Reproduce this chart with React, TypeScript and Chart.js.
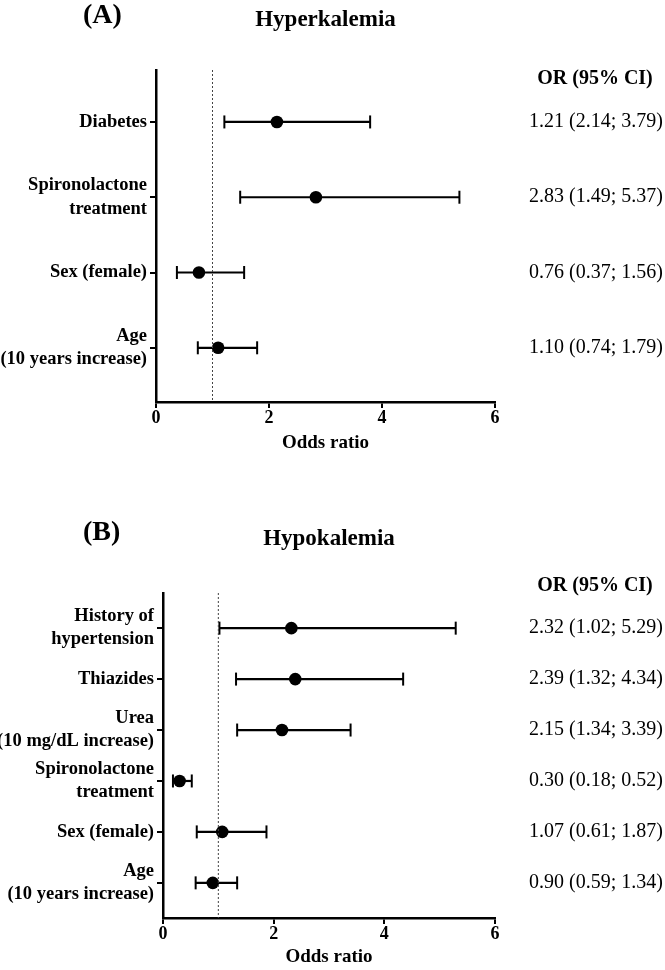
import React, { useEffect, useRef } from 'react';
import { Chart, registerables } from 'chart.js';

Chart.register(...registerables);

const FONT = '"Liberation Serif", "Times New Roman", serif';

// ---- Panel A: Hyperkalemia ----
const hyperLabels: (string | string[])[] = [
  'Diabetes',
  ['Spironolactone', 'treatment'],
  'Sex (female)',
  ['Age', '(10 years increase)'],
];
const hyperOR = [2.14, 2.83, 0.76, 1.1];
const hyperLow = [1.21, 1.49, 0.37, 0.74];
const hyperHigh = [3.79, 5.37, 1.56, 1.79];
const hyperText = [
  '1.21 (2.14; 3.79)',
  '2.83 (1.49; 5.37)',
  '0.76 (0.37; 1.56)',
  '1.10 (0.74; 1.79)',
];

// ---- Panel B: Hypokalemia ----
const hypoLabels: (string | string[])[] = [
  ['History of', 'hypertension'],
  'Thiazides',
  ['Urea', '(10 mg/dL increase)'],
  ['Spironolactone', 'treatment'],
  'Sex (female)',
  ['Age', '(10 years increase)'],
];
const hypoOR = [2.32, 2.39, 2.15, 0.3, 1.07, 0.9];
const hypoLow = [1.02, 1.32, 1.34, 0.18, 0.61, 0.59];
const hypoHigh = [5.29, 4.34, 3.39, 0.52, 1.87, 1.34];
const hypoText = [
  '2.32 (1.02; 5.29)',
  '2.39 (1.32; 4.34)',
  '2.15 (1.34; 3.39)',
  '0.30 (0.18; 0.52)',
  '1.07 (0.61; 1.87)',
  '0.90 (0.59; 1.34)',
];

const xTicks = [0, 2, 4, 6];
const refLine = 1;
const headerText = 'OR (95% CI)';
const xTitle = 'Odds ratio';

const panelTextPlugin = {
  id: 'panelText',
  afterDraw(chart: any, _args: any, opts: any) {
    const ctx = chart.ctx;
    ctx.save();
    ctx.fillStyle = '#000';
    ctx.textBaseline = 'middle';
    ctx.textAlign = 'left';
    ctx.font = `bold 28px ${FONT}`;
    ctx.fillText(opts.letter, opts.letterX, opts.letterY);
    ctx.textAlign = 'center';
    ctx.font = `bold 20px ${FONT}`;
    ctx.fillText(opts.header, opts.headerX, opts.headerY);
    ctx.restore();
  },
};

type PanelProps = {
  title: string;
  letter: string;
  labels: (string | string[])[];
  or: number[];
  low: number[];
  high: number[];
  text: string[];
  yMin: number;
  yMax: number;
  leftWidth: number;
  titlePadTop: number;
  titlePadBottom: number;
  xAxisHeight: number;
  padBottom: number;
  letterY: number;
  headerY: number;
};

function Panel(p: PanelProps) {
  const ref = useRef<HTMLCanvasElement>(null);
  useEffect(() => {
    if (!ref.current) return;
    const rows = p.labels.map((_, i) => i + 1);
    const datasets: any[] = [
      {
        data: [
          { x: refLine, y: p.yMin },
          { x: refLine, y: p.yMax },
        ],
        showLine: true,
        borderColor: '#444',
        borderWidth: 1,
        borderDash: [2, 2],
        pointRadius: 0,
      },
      ...rows.map((r, i) => ({
        data: [
          { x: p.low[i], y: r },
          { x: p.high[i], y: r },
        ],
        showLine: true,
        borderColor: '#000',
        borderWidth: 2.2,
        pointStyle: 'line',
        pointRotation: 90,
        pointRadius: 6.5,
        pointBorderColor: '#000',
        pointBorderWidth: 2,
      })),
      {
        data: rows.map((r, i) => ({ x: p.or[i], y: r })),
        showLine: false,
        pointRadius: 6.3,
        pointBackgroundColor: '#000',
        pointBorderColor: '#000',
        pointBorderWidth: 0,
      },
    ];
    const chart = new Chart(ref.current, {
      type: 'scatter',
      data: { datasets },
      plugins: [panelTextPlugin],
      options: {
        animation: false,
        responsive: false,
        devicePixelRatio: 1,
        events: [],
        layout: { padding: { left: 0, right: 2, top: 0, bottom: p.padBottom } },
        plugins: {
          legend: { display: false },
          tooltip: { enabled: false },
          title: {
            display: true,
            text: p.title,
            fullSize: false,
            color: '#000',
            font: { family: FONT, size: 23, weight: 'bold', lineHeight: 1.2 },
            padding: { top: p.titlePadTop, bottom: p.titlePadBottom },
          },
          panelText: {
            letter: p.letter,
            letterX: 83,
            letterY: p.letterY,
            header: headerText,
            headerX: 595,
            headerY: p.headerY,
          },
        } as any,
        scales: {
          x: {
            type: 'linear',
            position: 'bottom',
            min: xTicks[0],
            max: xTicks[xTicks.length - 1],
            afterBuildTicks: (s: any) => {
              s.ticks = xTicks.map((v) => ({ value: v }));
            },
            afterFit: (s: any) => {
              s.height = p.xAxisHeight;
            },
            border: { display: true, color: '#000', width: 2.5 },
            grid: { display: true, drawOnChartArea: false, drawTicks: true, tickLength: 6, color: '#000', lineWidth: 2 },
            ticks: {
              color: '#000',
              padding: 0,
              font: { family: FONT, size: 18, weight: 'bold', lineHeight: 1.2 },
            },
            title: {
              display: true,
              text: xTitle,
              color: '#000',
              font: { family: FONT, size: 19, weight: 'bold', lineHeight: 1.2 },
              padding: { top: 0, bottom: 0 },
            },
          },
          y: {
            type: 'linear',
            position: 'left',
            reverse: true,
            min: p.yMin,
            max: p.yMax,
            afterBuildTicks: (s: any) => {
              s.ticks = rows.map((v) => ({ value: v }));
            },
            afterFit: (s: any) => {
              s.width = p.leftWidth;
            },
            border: { display: true, color: '#000', width: 2.5 },
            grid: { display: true, drawOnChartArea: false, drawTicks: true, tickLength: 6, color: '#000', lineWidth: 2 },
            ticks: {
              autoSkip: false,
              color: '#000',
              padding: 3,
              font: { family: FONT, size: 18.5, weight: 'bold', lineHeight: 1.25 },
              callback: (v: any) => p.labels[Math.round(v) - 1] as any,
            },
          },
          y2: {
            type: 'linear',
            position: 'right',
            reverse: true,
            min: p.yMin,
            max: p.yMax,
            afterBuildTicks: (s: any) => {
              s.ticks = rows.map((v) => ({ value: v }));
            },
            afterFit: (s: any) => {
              s.width = 168;
            },
            border: { display: false },
            grid: { display: false },
            ticks: {
              autoSkip: false,
              color: '#000',
              padding: 0,
              crossAlign: 'far',
              font: { family: FONT, size: 20, weight: 'normal', lineHeight: 1.2 },
              callback: (v: any) => p.text[Math.round(v) - 1],
            },
          },
        },
      } as any,
    });
    return () => chart.destroy();
  }, []);
  return <canvas ref={ref} width={665} height={485} style={{ display: 'block' }} />;
}

export default function App() {
  return (
    <div style={{ position: 'absolute', left: 0, top: 0, width: 665, height: 970, background: '#fff' }}>
      <Panel
        title="Hyperkalemia"
        letter="(A)"
        labels={hyperLabels}
        or={hyperOR}
        low={hyperLow}
        high={hyperHigh}
        text={hyperText}
        yMin={0.31}
        yMax={4.72}
        leftWidth={156}
        titlePadTop={6}
        titlePadBottom={36.4}
        xAxisHeight={52}
        padBottom={31}
        letterY={16}
        headerY={79}
      />
      <Panel
        title="Hypokalemia"
        letter="(B)"
        labels={hypoLabels}
        or={hypoOR}
        low={hypoLow}
        high={hypoHigh}
        text={hypoText}
        yMin={0.31}
        yMax={6.69}
        leftWidth={163}
        titlePadTop={40}
        titlePadBottom={40.4}
        xAxisHeight={50.4}
        padBottom={1.6}
        letterY={48}
        headerY={101}
      />
    </div>
  );
}
